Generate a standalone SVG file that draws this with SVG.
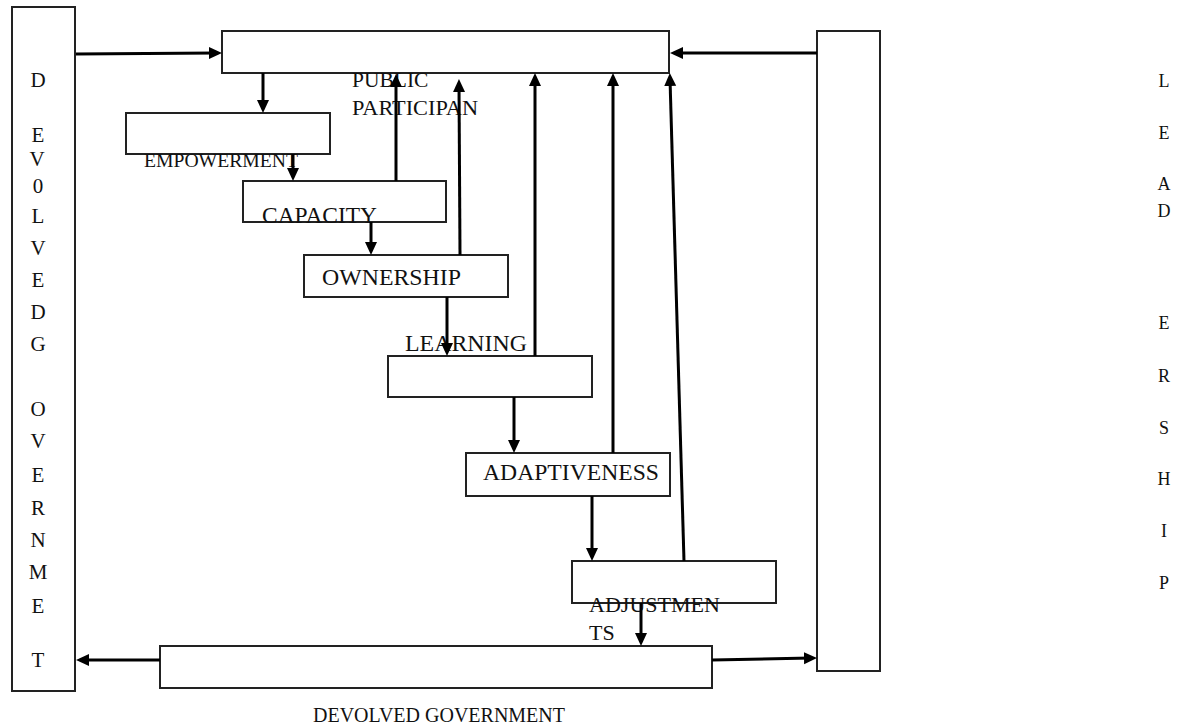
<svg xmlns="http://www.w3.org/2000/svg" width="1179" height="727" viewBox="0 0 1179 727">
<style>
.box{fill:none;stroke:#222;stroke-width:2}
.lbl{font-family:"Liberation Serif","Times New Roman",serif;fill:#111}
.col{font-family:"Liberation Serif","Times New Roman",serif;fill:#111;font-size:21px;text-anchor:middle}
.colr{font-family:"Liberation Serif","Times New Roman",serif;fill:#111;font-size:18px;text-anchor:middle}
.arr{fill:none;stroke:#000;stroke-width:3;marker-end:url(#ah)}
</style>
<defs>
<marker id="ah" markerUnits="userSpaceOnUse" markerWidth="14" markerHeight="13" refX="7" refY="6" orient="auto">
<path d="M0,0 L13,6 L0,12 z" fill="#000"/>
</marker>
</defs>
<rect width="1179" height="727" fill="#fff"/>

<g id="devolved-government-left">
<rect class="box" x="12" y="7" width="63" height="684"/>
<text class="col" x="38" y="87">D</text>
<text class="col" x="38" y="142">E</text>
<text class="col" x="37" y="166" font-size="18">V</text>
<text class="col" x="38" y="193">0</text>
<text class="col" x="38" y="223">L</text>
<text class="col" x="38" y="255">V</text>
<text class="col" x="38" y="287">E</text>
<text class="col" x="38" y="319">D</text>
<text class="col" x="38" y="351">G</text>
<text class="col" x="38" y="416">O</text>
<text class="col" x="38" y="448">V</text>
<text class="col" x="38" y="482">E</text>
<text class="col" x="38" y="515">R</text>
<text class="col" x="38" y="547">N</text>
<text class="col" x="38" y="579">M</text>
<text class="col" x="38" y="613">E</text>
<text class="col" x="38" y="667">T</text>
</g>

<g id="leadership">
<rect class="box" x="817" y="31" width="63" height="640"/>
<text class="colr" x="1164" y="87">L</text>
<text class="colr" x="1164" y="139">E</text>
<text class="colr" x="1164" y="190">A</text>
<text class="colr" x="1164" y="217">D</text>
<text class="colr" x="1164" y="329">E</text>
<text class="colr" x="1164" y="382">R</text>
<text class="colr" x="1164" y="434">S</text>
<text class="colr" x="1164" y="485">H</text>
<text class="colr" x="1164" y="537">I</text>
<text class="colr" x="1164" y="589">P</text>
</g>

<g id="public-participation">
<rect class="box" x="222" y="31" width="447" height="42"/>
<text class="lbl" x="352" y="87" font-size="21.5">PUBLIC</text>
<text class="lbl" x="352" y="115" font-size="21.5" textLength="126" lengthAdjust="spacingAndGlyphs">PARTICIPAN</text>
</g>

<g id="empowerment">
<rect class="box" x="126" y="113" width="204" height="41"/>
<text class="lbl" x="144" y="167" font-size="19.5" textLength="154" lengthAdjust="spacingAndGlyphs">EMPOWERMENT</text>
</g>

<g id="capacity">
<rect class="box" x="243" y="181" width="203" height="41"/>
<text class="lbl" x="262" y="223" font-size="23" textLength="115" lengthAdjust="spacingAndGlyphs">CAPACITY</text>
</g>

<g id="ownership">
<rect class="box" x="304" y="255" width="204" height="42"/>
<text class="lbl" x="322" y="285" font-size="23.5" textLength="139" lengthAdjust="spacingAndGlyphs">OWNERSHIP</text>
</g>

<g id="learning">
<rect class="box" x="388" y="356" width="204" height="41"/>
<text class="lbl" x="405" y="351" font-size="23.5" textLength="122" lengthAdjust="spacingAndGlyphs">LEARNING</text>
</g>

<g id="adaptiveness">
<rect class="box" x="466" y="453" width="204" height="43"/>
<text class="lbl" x="483" y="480" font-size="23" textLength="176" lengthAdjust="spacingAndGlyphs">ADAPTIVENESS</text>
</g>

<g id="adjustments">
<rect class="box" x="572" y="561" width="204" height="42"/>
<text class="lbl" x="589" y="612" font-size="22" textLength="131" lengthAdjust="spacingAndGlyphs">ADJUSTMEN</text>
<text class="lbl" x="589" y="640" font-size="22">TS</text>
</g>

<g id="devolved-government">
<rect class="box" x="160" y="646" width="552" height="42"/>
<text class="lbl" x="313" y="722" font-size="21" textLength="252" lengthAdjust="spacingAndGlyphs">DEVOLVED GOVERNMENT</text>
</g>

<g id="connectors">
<line class="arr" x1="76" y1="54" x2="216" y2="53"/>
<line class="arr" x1="817" y1="53" x2="676" y2="53"/>
<line class="arr" x1="263" y1="73" x2="263" y2="107"/>
<line class="arr" x1="293" y1="154" x2="293" y2="175"/>
<line class="arr" x1="396" y1="181" x2="396" y2="80"/>
<line class="arr" x1="371" y1="222" x2="371" y2="249"/>
<line class="arr" x1="460" y1="255" x2="459" y2="85"/>
<line class="arr" x1="447" y1="297" x2="447" y2="350"/>
<line class="arr" x1="535" y1="356" x2="535" y2="79"/>
<line class="arr" x1="514" y1="397" x2="514" y2="447"/>
<line class="arr" x1="613" y1="453" x2="613" y2="79"/>
<line class="arr" x1="592" y1="496" x2="592" y2="555"/>
<line class="arr" x1="684" y1="561" x2="670" y2="79"/>
<line class="arr" x1="641" y1="603" x2="641" y2="640"/>
<line class="arr" x1="160" y1="660" x2="82" y2="660"/>
<line class="arr" x1="712" y1="660" x2="811" y2="658"/>
</g>
</svg>
